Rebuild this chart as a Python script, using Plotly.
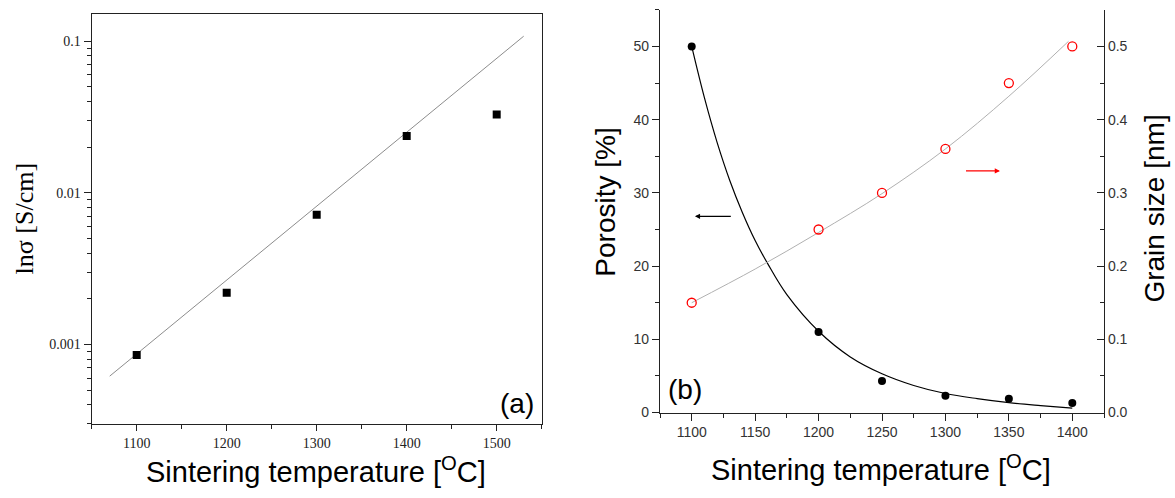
import plotly.graph_objects as go

# ---------------- data: panel (a) ----------------
temp_a = [1100, 1200, 1300, 1400, 1500]
sigma_a = [0.000853, 0.00219, 0.00716, 0.0237, 0.0328]
fit_a_x = [1070, 1530]
fit_a_y = [0.000618, 0.1077]

# ---------------- data: panel (b) ----------------
temp_b = [1100, 1200, 1250, 1300, 1350, 1400]
porosity = [50, 11, 4.3, 2.3, 1.9, 1.3]
grain = [0.15, 0.25, 0.30, 0.36, 0.45, 0.50]

por_fit_x = [1100, 1110, 1120, 1130, 1140, 1150, 1160, 1175, 1200, 1225, 1250, 1275, 1300, 1325, 1350, 1375, 1400]
por_fit_y = [50, 43.0, 36.9, 31.7, 27.3, 23.5, 20.3, 16.1, 11.1, 7.6, 5.3, 3.7, 2.6, 1.9, 1.35, 0.95, 0.6]

grain_fit_x = [1100, 1150, 1200, 1250, 1300, 1350, 1397]
grain_fit_y = [0.150, 0.196, 0.246, 0.299, 0.360, 0.432, 0.507]

ticks_a_y = [0.001, 0.01, 0.1]
ticks_a_y_text = ["0.001", "0.01", "0.1"]
minor_a_y = [k * 10.0 ** e for e in (-4, -3, -2, -1) for k in range(2, 10)]

W, H = 1175, 498
serif = "Liberation Serif, Times New Roman, serif"
sans = "Liberation Sans, Arial, sans-serif"

fig = go.Figure()

# panel (a)
fig.add_trace(go.Scatter(x=fit_a_x, y=fit_a_y, mode="lines",
                         line=dict(color="#8c8c8c", width=1), xaxis="x", yaxis="y",
                         showlegend=False, hoverinfo="skip"))
fig.add_trace(go.Scatter(x=temp_a, y=sigma_a, mode="markers",
                         marker=dict(symbol="square", size=8, color="black"),
                         xaxis="x", yaxis="y", showlegend=False))

# panel (b)
fig.add_trace(go.Scatter(x=grain_fit_x, y=grain_fit_y, mode="lines", line_shape="spline",
                         line=dict(color="#b0b0b0", width=1), xaxis="x2", yaxis="y3",
                         showlegend=False, hoverinfo="skip"))
fig.add_trace(go.Scatter(x=por_fit_x, y=por_fit_y, mode="lines", line_shape="spline",
                         line=dict(color="black", width=1.2), xaxis="x2", yaxis="y2",
                         showlegend=False, hoverinfo="skip"))
fig.add_trace(go.Scatter(x=temp_b, y=porosity, mode="markers",
                         marker=dict(symbol="circle", size=8, color="black"),
                         xaxis="x2", yaxis="y2", showlegend=False))
fig.add_trace(go.Scatter(x=temp_b, y=grain, mode="markers",
                         marker=dict(symbol="circle-open", size=9, color="red", line=dict(width=1.3)),
                         xaxis="x2", yaxis="y3", showlegend=False))

ax_line = dict(showline=True, linecolor="#222", linewidth=1.2, showgrid=False, zeroline=False)

xa_dom = [91.7 / W, 541.7 / W]
ya_dom = [(H - 431) / H, (H - 14) / H]
xb_dom = [660 / W, 1104 / W]
yb_dom = [(H - 419.3) / H, (H - 10) / H]

fig.update_layout(
    width=W, height=H, autosize=False,
    margin=dict(l=0, r=0, t=0, b=0),
    paper_bgcolor="white", plot_bgcolor="white",
    xaxis=dict(domain=xa_dom, anchor="y", range=[1050, 1550], tickvals=[1100, 1200, 1300, 1400, 1500],
               ticks="outside", ticklen=6, tickwidth=1.2, tickcolor="#222", mirror=True,
               minor=dict(tickvals=[1050, 1150, 1250, 1350, 1450, 1550], ticks="outside", ticklen=4,
                          tickcolor="#222", tickwidth=1),
               tickfont=dict(family=serif, size=14, color="#222"), **ax_line),
    yaxis=dict(domain=ya_dom, anchor="x", type="log", range=[-3.525, -0.82],
               tickvals=ticks_a_y, ticktext=ticks_a_y_text,
               ticks="outside", ticklen=7, tickwidth=1.2, tickcolor="#222", mirror=True,
               minor=dict(tickvals=minor_a_y, ticks="outside", ticklen=4, tickcolor="#222", tickwidth=1),
               tickfont=dict(family=serif, size=14, color="#222"), **ax_line),
    xaxis2=dict(domain=xb_dom, anchor="y2", range=[1075, 1425], dtick=50, tick0=1100,
                ticks="outside", ticklen=7, tickwidth=1.2, tickcolor="#222",
                minor=dict(dtick=25, tick0=1075, ticks="outside", ticklen=4, tickcolor="#222", tickwidth=1),
                tickfont=dict(family=sans, size=14, color="#333"), **ax_line),
    xaxis3=dict(domain=xb_dom, anchor="y2", overlaying="x2", side="top", range=[1075, 1425],
                dtick=50, tick0=1100, ticks="inside", ticklen=7, tickwidth=1.2, tickcolor="#222",
                minor=dict(dtick=25, tick0=1075, ticks="inside", ticklen=4, tickcolor="#222", tickwidth=1),
                showticklabels=False, **ax_line),
    yaxis2=dict(domain=yb_dom, anchor="x2", range=[0, 55], dtick=10, tick0=0,
                ticks="outside", ticklen=7, tickwidth=1.2, tickcolor="#222",
                minor=dict(dtick=5, tick0=0, ticks="outside", ticklen=4, tickcolor="#222", tickwidth=1),
                tickfont=dict(family=sans, size=14, color="#333"), **ax_line),
    yaxis3=dict(domain=yb_dom, anchor="x2", overlaying="y2", side="right", range=[0, 0.55],
                dtick=0.1, tick0=0, tickformat=".1f",
                ticks="inside", ticklen=7, tickwidth=1.2, tickcolor="#222",
                minor=dict(dtick=0.05, tick0=0, ticks="inside", ticklen=4, tickcolor="#222", tickwidth=1),
                tickfont=dict(family=sans, size=14, color="#333"), **ax_line),
)

ann = []
xt = "Sintering temperature [<sup>O</sup>C]"
ann.append(dict(text=xt, x=316 / W, y=1 - 478 / H, xref="paper", yref="paper", showarrow=False,
                xanchor="center", yanchor="middle", font=dict(family=sans, size=29, color="black")))
ann.append(dict(text=xt, x=881 / W, y=1 - 476 / H, xref="paper", yref="paper", showarrow=False,
                xanchor="center", yanchor="middle", font=dict(family=sans, size=29, color="black")))
ann.append(dict(text="lnσ [S/cm]", x=24 / W, y=1 - 222 / H, xref="paper", yref="paper", showarrow=False,
                textangle=-90, xanchor="center", yanchor="middle",
                font=dict(family=serif, size=26, color="black")))
ann.append(dict(text="Porosity [%]", x=606 / W, y=1 - 206 / H, xref="paper", yref="paper", showarrow=False,
                textangle=-90, xanchor="center", yanchor="middle",
                font=dict(family=sans, size=28, color="black")))
ann.append(dict(text="Grain size [nm]", x=1155 / W, y=1 - 212 / H, xref="paper", yref="paper", showarrow=False,
                textangle=-90, xanchor="center", yanchor="middle",
                font=dict(family=sans, size=28, color="black")))
ann.append(dict(text="(a)", x=517 / W, y=1 - 410 / H, xref="paper", yref="paper", showarrow=False,
                xanchor="center", yanchor="middle", font=dict(family=sans, size=28, color="black")))
ann.append(dict(text="(b)", x=685 / W, y=1 - 396 / H, xref="paper", yref="paper", showarrow=False,
                xanchor="center", yanchor="middle", font=dict(family=sans, size=28, color="black")))
# arrows
ann.append(dict(x=1102.5, y=26.8, xref="x2", yref="y2", ax=1132, ay=26.8, axref="x2", ayref="y2",
                text="", showarrow=True, arrowhead=2, arrowsize=0.8, arrowwidth=1.3, arrowcolor="black"))
ann.append(dict(x=1343, y=0.33, xref="x2", yref="y3", ax=1315, ay=0.33, axref="x2", ayref="y3",
                text="", showarrow=True, arrowhead=2, arrowsize=0.8, arrowwidth=1.3, arrowcolor="red"))
fig.update_layout(annotations=ann)

fig.write_html("out.html", config={"displayModeBar": False},
               post_script="document.body.style.margin='0px';document.body.style.overflow='hidden';")
